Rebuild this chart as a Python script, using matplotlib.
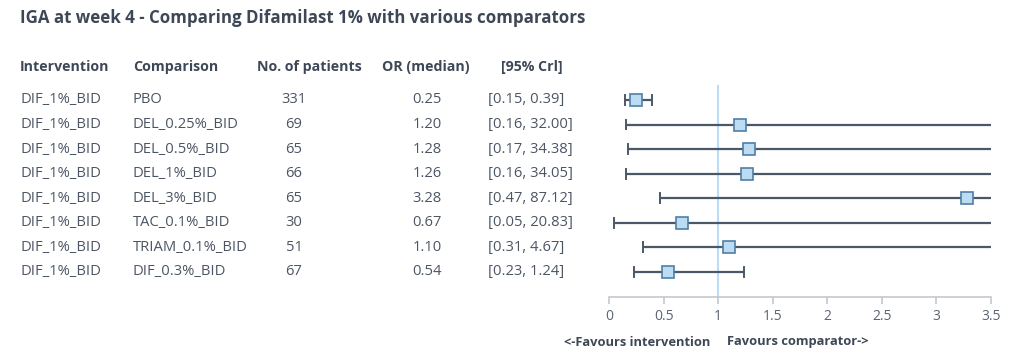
import numpy as np
import matplotlib
matplotlib.use('Agg')
import matplotlib.pyplot as plt
from matplotlib.transforms import blended_transform_factory

plt.rcParams['font.family'] = ['Open Sans', 'DejaVu Sans']

intervention = ['DIF_1%_BID'] * 8
comparison = ['PBO', 'DEL_0.25%_BID', 'DEL_0.5%_BID', 'DEL_1%_BID',
              'DEL_3%_BID', 'TAC_0.1%_BID', 'TRIAM_0.1%_BID', 'DIF_0.3%_BID']
n_patients = [331, 69, 65, 66, 65, 30, 51, 67]
or_median = [0.25, 1.20, 1.28, 1.26, 3.28, 0.67, 1.10, 0.54]
ci_low = [0.15, 0.16, 0.17, 0.16, 0.47, 0.05, 0.31, 0.23]
ci_high = [0.39, 32.00, 34.38, 34.05, 87.12, 20.83, 4.67, 1.24]

txt_col = '#4b5563'
bar_col = '#4a5867'

fig = plt.figure(figsize=(10.24, 3.58), dpi=100)
ax = fig.add_axes([609/1024, 1-297/358, 382/1024, 212/358])

y = np.arange(len(comparison))
xmax = 3.5

ax.axvline(1, color='#bcdcf3', lw=1.5, zorder=1)

for i in range(len(y)):
    lo, hi, m = ci_low[i], ci_high[i], or_median[i]
    ax.plot([lo, min(hi, xmax)], [y[i], y[i]], color=bar_col, lw=1.6,
            solid_capstyle='butt', zorder=2, clip_on=False)
    ax.plot([lo, lo], [y[i]-0.2, y[i]+0.2], color=bar_col, lw=1.4, zorder=2)
    if hi <= xmax:
        ax.plot([hi, hi], [y[i]-0.2, y[i]+0.2], color=bar_col, lw=1.4, zorder=2)
    ax.plot(m, y[i], marker='s', ms=8, mfc='#bcdcf3', mec='#4f7fa6', mew=1.2,
            zorder=3)

ax.set_xlim(0, xmax)
ax.set_ylim(8.02, -0.61)
ax.set_xticks(np.arange(0, 3.51, 0.5))
ax.set_xticklabels(['0', '0.5', '1', '1.5', '2', '2.5', '3', '3.5'])
ax.set_yticks([])
for s in ['top', 'right', 'left']:
    ax.spines[s].set_visible(False)
ax.spines['bottom'].set_color('#c3c7cf')
ax.spines['bottom'].set_linewidth(1.2)
ax.tick_params(axis='x', colors='#c3c7cf', length=5, width=1.2, direction='out',
               labelcolor='#5b6472', labelsize=10, pad=4)
ax.patch.set_alpha(0)

tr = blended_transform_factory(fig.transFigure, ax.transData)
fs = 10.6
for i in range(len(y)):
    ax.text(20/1024, y[i], intervention[i], transform=tr, ha='left', va='center',
            fontsize=fs, color=txt_col)
    ax.text(133/1024, y[i], comparison[i], transform=tr, ha='left', va='center',
            fontsize=fs, color=txt_col)
    ax.text(294/1024, y[i], str(n_patients[i]), transform=tr, ha='center', va='center',
            fontsize=fs, color=txt_col)
    ax.text(427/1024, y[i], '%.2f' % or_median[i], transform=tr, ha='center', va='center',
            fontsize=fs, color=txt_col)
    ax.text(488/1024, y[i], '[%.2f, %.2f]' % (ci_low[i], ci_high[i]), transform=tr,
            ha='left', va='center', fontsize=fs, color=txt_col)

hy = 1 - 67/358
hdr = dict(fontsize=10.2, color='#3d4756', fontweight='bold', va='center')
fig.text(20/1024, hy, 'Intervention', ha='left', **hdr)
fig.text(133/1024, hy, 'Comparison', ha='left', **hdr)
fig.text(257/1024, hy, 'No. of patients', ha='left', **hdr)
fig.text(382/1024, hy, 'OR (median)', ha='left', **hdr)
fig.text(501/1024, hy, '[95% Crl]', ha='left', **hdr)

fig.text(20/1024, 1 - 18/358, 'IGA at week 4 - Comparing Difamilast 1% with various comparators',
         ha='left', va='center', fontsize=12.15, fontweight='bold', color='#3d4756')

fig.text(564/1024, 1 - 342/358, '<-Favours intervention', ha='left', va='center',
         fontsize=9.3, fontweight='bold', color='#3d4756')
fig.text(727/1024, 1 - 342/358, 'Favours comparator->', ha='left', va='center',
         fontsize=9.3, fontweight='bold', color='#3d4756')

fig.savefig('out.png', dpi=100)
